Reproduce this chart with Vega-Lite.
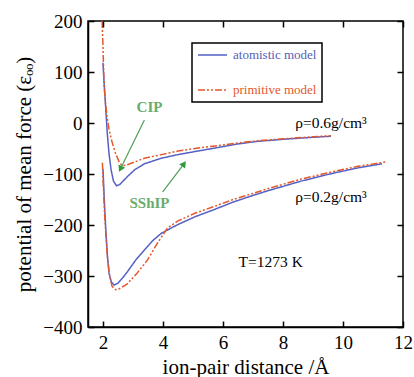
{
  "$schema": "https://vega.github.io/schema/vega-lite/v6.json",
  "width": 315,
  "height": 306,
  "autosize": "none",
  "padding": {"left": 88, "top": 21, "right": 11, "bottom": 50},
  "background": "white",
  "config": {
    "font": "Liberation Serif",
    "view": {"stroke": "black", "strokeWidth": 1.5}
  },
  "datasets": {
    "curves": [
      {"x": 2.0, "y": 118, "model": "atomistic model", "rho": "0.6"},
      {"x": 2.03, "y": 85, "model": "atomistic model", "rho": "0.6"},
      {"x": 2.07, "y": 49, "model": "atomistic model", "rho": "0.6"},
      {"x": 2.1, "y": 20, "model": "atomistic model", "rho": "0.6"},
      {"x": 2.14, "y": -18, "model": "atomistic model", "rho": "0.6"},
      {"x": 2.2, "y": -60, "model": "atomistic model", "rho": "0.6"},
      {"x": 2.27, "y": -92, "model": "atomistic model", "rho": "0.6"},
      {"x": 2.35, "y": -114, "model": "atomistic model", "rho": "0.6"},
      {"x": 2.45, "y": -123, "model": "atomistic model", "rho": "0.6"},
      {"x": 2.55, "y": -121, "model": "atomistic model", "rho": "0.6"},
      {"x": 2.7, "y": -112, "model": "atomistic model", "rho": "0.6"},
      {"x": 2.85, "y": -103, "model": "atomistic model", "rho": "0.6"},
      {"x": 3.05, "y": -92, "model": "atomistic model", "rho": "0.6"},
      {"x": 3.38, "y": -80, "model": "atomistic model", "rho": "0.6"},
      {"x": 3.95, "y": -69, "model": "atomistic model", "rho": "0.6"},
      {"x": 4.5, "y": -62, "model": "atomistic model", "rho": "0.6"},
      {"x": 5.06, "y": -56, "model": "atomistic model", "rho": "0.6"},
      {"x": 5.74, "y": -49, "model": "atomistic model", "rho": "0.6"},
      {"x": 6.5, "y": -41, "model": "atomistic model", "rho": "0.6"},
      {"x": 7.15, "y": -36, "model": "atomistic model", "rho": "0.6"},
      {"x": 8.0, "y": -32, "model": "atomistic model", "rho": "0.6"},
      {"x": 9.0, "y": -28, "model": "atomistic model", "rho": "0.6"},
      {"x": 9.6, "y": -26, "model": "atomistic model", "rho": "0.6"},

      {"x": 1.97, "y": 200, "model": "primitive model", "rho": "0.6"},
      {"x": 2.0, "y": 150, "model": "primitive model", "rho": "0.6"},
      {"x": 2.03, "y": 80, "model": "primitive model", "rho": "0.6"},
      {"x": 2.08, "y": 40, "model": "primitive model", "rho": "0.6"},
      {"x": 2.13, "y": 15, "model": "primitive model", "rho": "0.6"},
      {"x": 2.2, "y": -12, "model": "primitive model", "rho": "0.6"},
      {"x": 2.3, "y": -37, "model": "primitive model", "rho": "0.6"},
      {"x": 2.42, "y": -60, "model": "primitive model", "rho": "0.6"},
      {"x": 2.54, "y": -76, "model": "primitive model", "rho": "0.6"},
      {"x": 2.64, "y": -84, "model": "primitive model", "rho": "0.6"},
      {"x": 2.75, "y": -83, "model": "primitive model", "rho": "0.6"},
      {"x": 2.9, "y": -80, "model": "primitive model", "rho": "0.6"},
      {"x": 3.38, "y": -69, "model": "primitive model", "rho": "0.6"},
      {"x": 3.95, "y": -62, "model": "primitive model", "rho": "0.6"},
      {"x": 4.5, "y": -55, "model": "primitive model", "rho": "0.6"},
      {"x": 5.06, "y": -50, "model": "primitive model", "rho": "0.6"},
      {"x": 5.74, "y": -45, "model": "primitive model", "rho": "0.6"},
      {"x": 6.5, "y": -39, "model": "primitive model", "rho": "0.6"},
      {"x": 7.15, "y": -35, "model": "primitive model", "rho": "0.6"},
      {"x": 8.0, "y": -31, "model": "primitive model", "rho": "0.6"},
      {"x": 9.0, "y": -27, "model": "primitive model", "rho": "0.6"},
      {"x": 9.6, "y": -25, "model": "primitive model", "rho": "0.6"},

      {"x": 2.0, "y": -90, "model": "atomistic model", "rho": "0.2"},
      {"x": 2.05, "y": -160, "model": "atomistic model", "rho": "0.2"},
      {"x": 2.1, "y": -216, "model": "atomistic model", "rho": "0.2"},
      {"x": 2.15, "y": -262, "model": "atomistic model", "rho": "0.2"},
      {"x": 2.2, "y": -294, "model": "atomistic model", "rho": "0.2"},
      {"x": 2.28, "y": -312, "model": "atomistic model", "rho": "0.2"},
      {"x": 2.37, "y": -318, "model": "atomistic model", "rho": "0.2"},
      {"x": 2.5, "y": -314, "model": "atomistic model", "rho": "0.2"},
      {"x": 2.65, "y": -304, "model": "atomistic model", "rho": "0.2"},
      {"x": 2.81, "y": -292, "model": "atomistic model", "rho": "0.2"},
      {"x": 3.1, "y": -268, "model": "atomistic model", "rho": "0.2"},
      {"x": 3.38, "y": -249, "model": "atomistic model", "rho": "0.2"},
      {"x": 3.65, "y": -231, "model": "atomistic model", "rho": "0.2"},
      {"x": 3.95, "y": -216, "model": "atomistic model", "rho": "0.2"},
      {"x": 4.5, "y": -199, "model": "atomistic model", "rho": "0.2"},
      {"x": 5.06, "y": -184, "model": "atomistic model", "rho": "0.2"},
      {"x": 5.74, "y": -169, "model": "atomistic model", "rho": "0.2"},
      {"x": 6.34, "y": -155, "model": "atomistic model", "rho": "0.2"},
      {"x": 7.0, "y": -142, "model": "atomistic model", "rho": "0.2"},
      {"x": 7.49, "y": -133, "model": "atomistic model", "rho": "0.2"},
      {"x": 8.6, "y": -114, "model": "atomistic model", "rho": "0.2"},
      {"x": 9.7, "y": -98, "model": "atomistic model", "rho": "0.2"},
      {"x": 10.5, "y": -88, "model": "atomistic model", "rho": "0.2"},
      {"x": 11.3, "y": -80, "model": "atomistic model", "rho": "0.2"},

      {"x": 1.98, "y": -78, "model": "primitive model", "rho": "0.2"},
      {"x": 2.0, "y": -110, "model": "primitive model", "rho": "0.2"},
      {"x": 2.05, "y": -175, "model": "primitive model", "rho": "0.2"},
      {"x": 2.1, "y": -225, "model": "primitive model", "rho": "0.2"},
      {"x": 2.15, "y": -265, "model": "primitive model", "rho": "0.2"},
      {"x": 2.22, "y": -300, "model": "primitive model", "rho": "0.2"},
      {"x": 2.3, "y": -320, "model": "primitive model", "rho": "0.2"},
      {"x": 2.42, "y": -327, "model": "primitive model", "rho": "0.2"},
      {"x": 2.55, "y": -325, "model": "primitive model", "rho": "0.2"},
      {"x": 2.8, "y": -316, "model": "primitive model", "rho": "0.2"},
      {"x": 3.14, "y": -294, "model": "primitive model", "rho": "0.2"},
      {"x": 3.48, "y": -269, "model": "primitive model", "rho": "0.2"},
      {"x": 3.82, "y": -235, "model": "primitive model", "rho": "0.2"},
      {"x": 4.15, "y": -206, "model": "primitive model", "rho": "0.2"},
      {"x": 4.5, "y": -192, "model": "primitive model", "rho": "0.2"},
      {"x": 5.06, "y": -177, "model": "primitive model", "rho": "0.2"},
      {"x": 5.74, "y": -163, "model": "primitive model", "rho": "0.2"},
      {"x": 6.34, "y": -150, "model": "primitive model", "rho": "0.2"},
      {"x": 7.0, "y": -138, "model": "primitive model", "rho": "0.2"},
      {"x": 7.49, "y": -129, "model": "primitive model", "rho": "0.2"},
      {"x": 8.6, "y": -110, "model": "primitive model", "rho": "0.2"},
      {"x": 9.7, "y": -95, "model": "primitive model", "rho": "0.2"},
      {"x": 10.5, "y": -85, "model": "primitive model", "rho": "0.2"},
      {"x": 11.46, "y": -76, "model": "primitive model", "rho": "0.2"}
    ],
    "arrows": [
      {"name": "CIP", "x": 3.38, "y": 6, "x2": 2.58, "y2": -90},
      {"name": "SShIP", "x": 3.99, "y": -135, "x2": 4.7, "y2": -80}
    ],
    "notes": [
      {"kind": "green", "x": 3.55, "y": 31, "text": "CIP"},
      {"kind": "green", "x": 3.55, "y": -157, "text": "SShIP"},
      {"kind": "black", "x": 9.6, "y": 0, "text": "ρ=0.6g/cm³"},
      {"kind": "black", "x": 9.6, "y": -145, "text": "ρ=0.2g/cm³"},
      {"kind": "black", "x": 7.59, "y": -273, "text": "T=1273 K"}
    ]
  },
  "encoding": {
    "x": {"type": "quantitative", "scale": {"domain": [1.5, 12], "nice": false, "zero": false},
          "axis": {"orient": "bottom", "zindex": 1, "values": [2, 4, 6, 8, 10, 12], "grid": true, "gridColor": "black", "gridWidth": 1.5, "gridDash": [6, 294], "gridOpacity": 1,
                   "domainColor": "black", "domainWidth": 1.5, "ticks": false,
                   "labelFont": "Liberation Serif", "labelFontSize": 19, "labelColor": "black", "labelPadding": 6, "labelFlush": false,
                   "title": "ion-pair distance /Å", "titleFont": "Liberation Serif", "titleFontSize": 21, "titleFontWeight": "normal", "titleColor": "black", "titlePadding": 4}},
    "y": {"type": "quantitative", "scale": {"domain": [-400, 200], "nice": false, "zero": false},
          "axis": {"orient": "left", "zindex": 1, "values": [-400, -300, -200, -100, 0, 100, 200], "grid": true, "gridColor": "black", "gridWidth": 1.5, "gridDash": [6, 303], "gridOpacity": 1,
                   "domainColor": "black", "domainWidth": 1.5, "ticks": false,
                   "labelFont": "Liberation Serif", "labelFontSize": 19, "labelColor": "black", "labelPadding": 6, "labelFlush": false,
                   "title": "potential of mean force (εₒₒ)", "titleFont": "Liberation Serif", "titleFontSize": 21, "titleFontWeight": "normal", "titleColor": "black", "titlePadding": 8}}
  },
  "layer": [
    {
      "data": {"name": "curves"},
      "mark": {"type": "line", "strokeWidth": 1.5, "clip": true},
      "encoding": {
        "x": {"field": "x"},
        "y": {"field": "y"},
        "color": {"field": "model", "type": "nominal",
                  "scale": {"domain": ["atomistic model", "primitive model"], "range": ["#5560c4", "#e4582a"]},
                  "legend": {"orient": "none", "legendX": 104, "legendY": 22, "title": null, "strokeColor": "black", "fillColor": "white", "padding": 5, "symbolType": "stroke", "symbolSize": 841, "symbolStrokeWidth": 1.5, "labelFontSize": 13, "labelFont": "Liberation Serif", "labelOffset": 5, "rowPadding": 21, "clipHeight": 14, "zindex": 2,
                             "encode": {"legend": {"update": {"strokeWidth": {"value": 1.5}}}, "labels": {"update": {"fill": {"signal": "datum.label == 'atomistic model' ? '#5560b4' : '#e4582a'"}}}}}},
        "strokeDash": {"field": "model", "type": "nominal",
                       "scale": {"domain": ["atomistic model", "primitive model"], "range": [[1, 0], [7, 2, 2, 2, 2, 2]]}},
        "detail": {"field": "rho", "type": "nominal"}
      }
    },
    {
      "data": {"name": "arrows"},
      "mark": {"type": "rule", "color": "#4f9e55", "strokeWidth": 1.2},
      "encoding": {
        "x": {"field": "x"},
        "y": {"field": "y"},
        "x2": {"field": "x2"},
        "y2": {"field": "y2"}
      }
    },
    {
      "data": {"name": "arrows"},
      "transform": [{"filter": "datum.name == 'CIP'"}],
      "mark": {"type": "point", "shape": "triangle-up", "filled": true, "color": "#2f9a3f", "size": 55, "angle": 206, "opacity": 1},
      "encoding": {
        "x": {"field": "x2"},
        "y": {"field": "y2"}
      }
    },
    {
      "data": {"name": "arrows"},
      "transform": [{"filter": "datum.name == 'SShIP'"}],
      "mark": {"type": "point", "shape": "triangle-up", "filled": true, "color": "#2f9a3f", "size": 55, "angle": 36, "opacity": 1},
      "encoding": {
        "x": {"field": "x2"},
        "y": {"field": "y2"}
      }
    },
    {
      "data": {"name": "notes"},
      "transform": [{"filter": "datum.kind == 'green'"}],
      "mark": {"type": "text", "font": "Liberation Serif", "fontSize": 15, "fontWeight": "bold", "color": "#6aad6a"},
      "encoding": {
        "x": {"field": "x"},
        "y": {"field": "y"},
        "text": {"field": "text"}
      }
    },
    {
      "data": {"name": "notes"},
      "transform": [{"filter": "datum.kind == 'black'"}],
      "mark": {"type": "text", "font": "Liberation Serif", "fontSize": 15.5, "color": "black"},
      "encoding": {
        "x": {"field": "x"},
        "y": {"field": "y"},
        "text": {"field": "text"}
      }
    }
  ]
}
